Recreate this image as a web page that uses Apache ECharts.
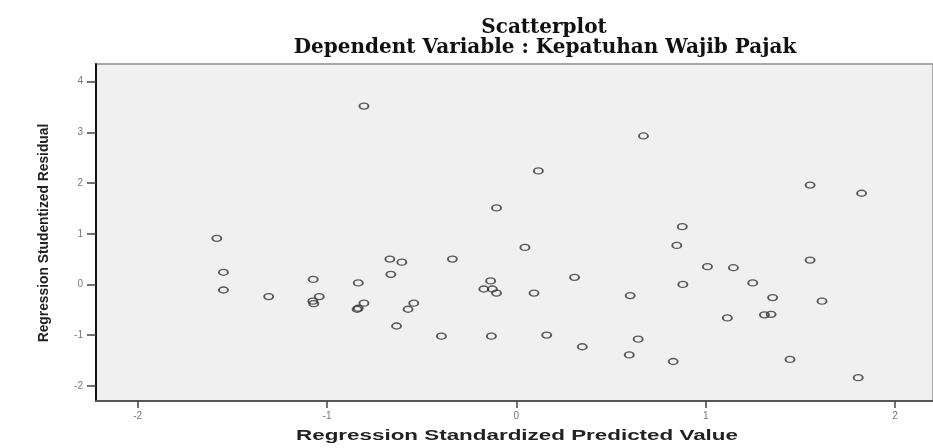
<!DOCTYPE html>
<html>
<head>
<meta charset="utf-8">
<style>
  html, body { margin: 0; padding: 0; background: #fff; }
  #chart { width: 933px; height: 448px; }
</style>
<script src="https://cdn.jsdelivr.net/npm/echarts@6/dist/echarts.min.js"></script>
</head>
<body>
<div id="chart"></div>
<script>
// nilai prediksi terstandar (x) dan residual studentized (y)
const predicted = [
  -0.805, -0.105, 0.671, 0.116, 1.551, 1.823, -1.582, -1.547, -1.547, -1.308,
  -1.073, -1.041, -1.075, -1.070, -0.835, -0.805, -0.841, -0.835, -0.668, -0.605,
  -0.663, -0.338, -0.633, -0.542, -0.572, -0.396, -0.132, -0.136, -0.172, -0.127,
  -0.105, 0.876, 0.847, 0.045, 1.009, 1.146, 1.551, 0.307, 0.879, 1.248,
  0.093, 0.601, 1.353, 1.614, 1.114, 1.310, 1.345, 0.160, 0.348, 0.643,
  0.596, 0.828, 1.445, 1.805,
];
const residual = [
  3.52, 1.51, 2.93, 2.24, 1.96, 1.80, 0.91, 0.24, -0.11, -0.24,
  0.10, -0.24, -0.33, -0.38, 0.03, -0.37, -0.49, -0.47, 0.50, 0.44,
  0.20, 0.50, -0.82, -0.37, -0.49, -1.02, -1.02, 0.07, -0.09, -0.09,
  -0.17, 1.14, 0.77, 0.73, 0.35, 0.33, 0.48, 0.14, 0.00, 0.03,
  -0.17, -0.22, -0.26, -0.33, -0.66, -0.60, -0.59, -1.00, -1.23, -1.08,
  -1.39, -1.52, -1.48, -1.84,
];
const xTicks = [-2, -1, 0, 1, 2];
const yTicks = [-2, -1, 0, 1, 2, 3, 4];

const titleLines = ['Scatterplot', 'Dependent Variable : Kepatuhan Wajib Pajak'];
const xName = 'Regression Standardized Predicted Value';
const yName = 'Regression Studentized Residual';

const points = predicted.map((x, i) => [x, residual[i]]);

const chart = echarts.init(document.getElementById('chart'), null, { renderer: 'canvas' });

const tickLabel = {
  color: '#777',
  fontSize: 10,
  fontFamily: 'Liberation Sans, Arial, sans-serif',
};
const titleFont = 'bold 20px "DejaVu Serif", serif';

const option = {
  animation: false,
  backgroundColor: '#fff',
  grid: {
    left: 96,
    top: 64,
    right: -2,
    bottom: 47,
    show: true,
    backgroundColor: '#f0f0f0',
    borderColor: '#a8a8a8',
    borderWidth: 2,
  },
  xAxis: {
    type: 'value',
    min: -2.22,
    max: 2.2,
    splitLine: { show: false },
    axisLine: { onZero: false, lineStyle: { color: '#555', width: 2 } },
    axisTick: { show: true, length: 7, customValues: xTicks, lineStyle: { color: '#444', width: 1.5 } },
    axisLabel: Object.assign({ customValues: xTicks, margin: 10 }, tickLabel),
  },
  yAxis: {
    type: 'value',
    min: -2.30,
    max: 4.35,
    splitLine: { show: false },
    axisLine: { show: true, onZero: false, lineStyle: { color: '#111', width: 2 } },
    axisTick: { show: true, length: 9, customValues: yTicks, lineStyle: { color: '#444', width: 1.5 } },
    axisLabel: Object.assign({ customValues: yTicks, margin: 13 }, tickLabel),
  },
  graphic: [
    {
      type: 'text',
      x: 544,
      y: 28,
      style: {
        text: titleLines[0],
        align: 'center',
        verticalAlign: 'middle',
        font: titleFont,
        fill: '#111',
      },
    },
    {
      type: 'text',
      x: 545,
      y: 48,
      style: {
        text: titleLines[1],
        align: 'center',
        verticalAlign: 'middle',
        font: titleFont,
        fill: '#111',
      },
    },
    {
      type: 'text',
      x: 517,
      y: 436,
      scaleX: 1.6,
      style: {
        text: xName,
        align: 'center',
        verticalAlign: 'middle',
        font: 'bold 14px "Liberation Sans", Arial, sans-serif',
        fill: '#222',
      },
    },
    {
      type: 'text',
      x: 44,
      y: 233,
      rotation: Math.PI / 2,
      scaleX: 0.92,
      style: {
        text: yName,
        align: 'center',
        verticalAlign: 'middle',
        font: 'bold 15px "Liberation Sans", Arial, sans-serif',
        fill: '#222',
      },
    },
  ],
  series: [
    {
      type: 'scatter',
      data: points,
      symbol: 'circle',
      symbolSize: [9, 6],
      itemStyle: {
        color: 'rgba(0,0,0,0)',
        borderColor: '#333',
        borderWidth: 1.6,
      },
      silent: true,
    },
  ],
};
chart.setOption(option);
</script>
</body>
</html>
